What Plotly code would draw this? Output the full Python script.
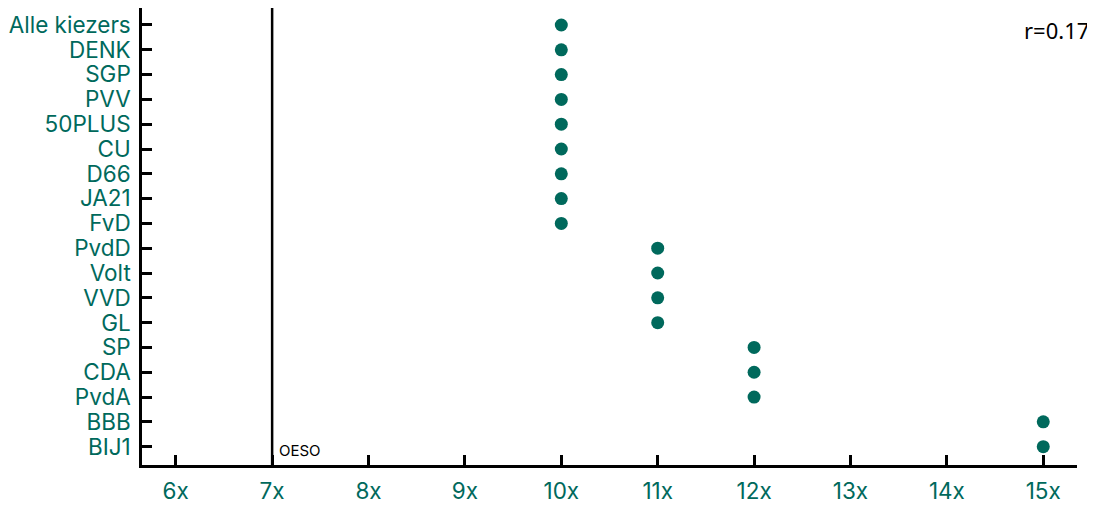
import plotly.graph_objects as go

parties = ["Alle kiezers", "DENK", "SGP", "PVV", "50PLUS", "CU", "D66", "JA21", "FvD",
           "PvdD", "Volt", "VVD", "GL", "SP", "CDA", "PvdA", "BBB", "BIJ1"]
values = [10, 10, 10, 10, 10, 10, 10, 10, 10, 11, 11, 11, 11, 12, 12, 12, 15, 15]
x_ticks = [6, 7, 8, 9, 10, 11, 12, 13, 14, 15]
x_tick_labels = ["6x", "7x", "8x", "9x", "10x", "11x", "12x", "13x", "14x", "15x"]
oeso_value = 7
r_label = "r=0.17"

teal = "#00695C"
font_family = "Inter, Liberation Sans, Arial, sans-serif"

fig = go.Figure()
fig.add_trace(go.Scatter(
    x=values, y=list(range(len(parties))), mode="markers",
    marker=dict(color=teal, size=13, line=dict(width=0)),
    hoverinfo="skip", showlegend=False,
))

fig.add_shape(type="line", x0=oeso_value, x1=oeso_value, y0=0, y1=1,
              xref="x", yref="paper", layer="above", line=dict(color="black", width=2.5))
fig.add_annotation(x=oeso_value, y=0, xref="x", yref="paper", text="OESO",
                   showarrow=False, xanchor="left", yanchor="bottom", xshift=5, yshift=3,
                   font=dict(family=font_family, size=15, color="black"))
fig.add_annotation(x=1, y=1, xref="paper", yref="paper", text=r_label,
                   showarrow=False, xanchor="right", yanchor="top", xshift=14, yshift=-5,
                   font=dict(family="Noto Sans, Open Sans, sans-serif", size=22, color="black"))

fig.update_layout(
    width=1087, height=499,
    margin=dict(l=134, r=18, t=0, b=42, autoexpand=False),
    plot_bgcolor="white", paper_bgcolor="white",
    font=dict(family=font_family, color=teal),
    xaxis=dict(range=[5.65, 15.35], tickvals=x_ticks, ticktext=x_tick_labels,
               automargin=False,
               showgrid=False, zeroline=False, showline=True, linecolor="black", linewidth=2.5,
               ticks="inside", ticklen=10, tickwidth=2.5, tickcolor="black",
               tickfont=dict(size=22.5, color=teal, family=font_family), ticklabelstandoff=4),
    yaxis=dict(range=[17.74, -0.685], tickvals=list(range(len(parties))), ticktext=parties,
               automargin=False,
               showgrid=False, zeroline=False, showline=True, linecolor="black", linewidth=2.5,
               ticks="inside", ticklen=10, tickwidth=2.5, tickcolor="black",
               tickfont=dict(size=22.5, color=teal, family=font_family), ticklabelstandoff=4),
)

fig.write_html("out.html")
